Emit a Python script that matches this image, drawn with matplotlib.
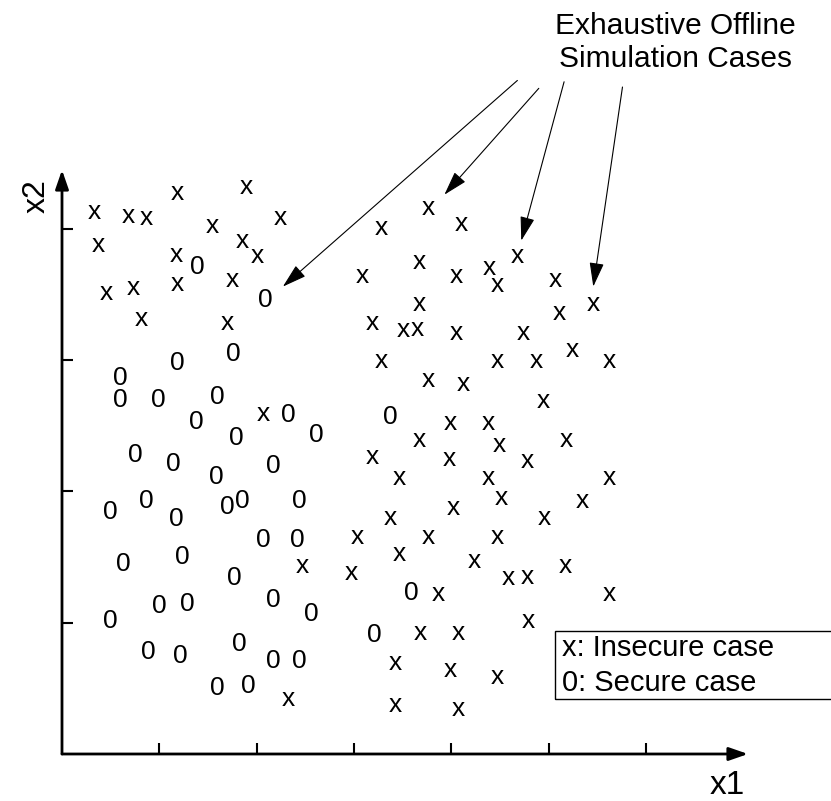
import matplotlib
matplotlib.use("Agg")
import matplotlib.pyplot as plt
from matplotlib.patches import Rectangle

plt.rcParams['font.family'] = ['Liberation Sans', 'DejaVu Sans']

# insecure cases, drawn as "x"
insecure_x1 = [0.33, 0.68, 0.87, 1.19, 1.89, 2.24, 1.54, 0.37, 1.85, 2.01,
               1.18, 1.19, 1.75, 0.46, 0.73, 0.82, 1.70, 2.07, 2.47, 2.33,
               3.76, 3.28, 4.10, 3.67, 3.09, 4.05, 4.39, 4.47, 4.68, 5.07,
               5.46, 3.67, 5.11, 3.19, 3.51, 3.65, 4.05, 4.74, 5.24, 3.28,
               4.47, 4.87, 5.62, 3.76, 4.12, 4.95, 3.99, 4.38, 3.67, 4.49,
               5.18, 3.19, 3.98, 4.78, 3.47, 4.38, 5.62, 4.52, 5.35, 4.02,
               3.37, 4.96, 3.03, 3.76, 4.47, 3.47, 4.24, 2.97, 4.59, 4.78,
               5.17, 3.87, 5.62, 4.79, 3.68, 4.07, 3.43, 3.99, 4.47, 3.43,
               4.07]
insecure_x2 = [4.13, 4.10, 4.08, 4.27, 4.32, 4.08, 4.02, 3.88, 3.91, 3.79,
               3.80, 3.58, 3.61, 3.51, 3.55, 3.31, 3.28, 2.59, 1.43, 0.42,
               4.16, 4.01, 4.04, 3.75, 3.64, 3.64, 3.70, 3.57, 3.79, 3.61,
               3.43, 3.43, 3.36, 3.28, 3.23, 3.24, 3.21, 3.21, 3.08, 2.99,
               2.99, 2.99, 2.99, 2.85, 2.82, 2.69, 2.52, 2.52, 2.39, 2.35,
               2.39, 2.26, 2.25, 2.23, 2.10, 2.10, 2.10, 1.95, 1.93, 1.87,
               1.80, 1.80, 1.65, 1.65, 1.65, 1.52, 1.47, 1.38, 1.34, 1.35,
               1.43, 1.22, 1.22, 1.01, 0.92, 0.92, 0.69, 0.64, 0.59, 0.37,
               0.34]

# secure cases, drawn as "0"
secure_x1 = [1.39, 2.09, 1.19, 1.76, 0.60, 0.60, 0.99, 1.60, 1.38, 2.33,
             1.79, 2.61, 0.75, 1.14, 1.59, 2.17, 0.87, 0.50, 1.17, 1.70,
             1.85, 2.44, 2.07, 2.42, 0.63, 1.24, 1.77, 1.00, 1.29, 2.17,
             2.56, 0.50, 0.89, 1.22, 1.82, 2.17, 2.44, 1.60, 1.91, 3.37,
             3.59, 3.21]
secure_x2 = [3.71, 3.46, 2.98, 3.05, 2.86, 2.70, 2.70, 2.72, 2.53, 2.58,
             2.41, 2.43, 2.28, 2.21, 2.11, 2.19, 1.93, 1.84, 1.79, 1.88,
             1.93, 1.93, 1.63, 1.63, 1.45, 1.50, 1.34, 1.13, 1.14, 1.17,
             1.07, 1.01, 0.78, 0.75, 0.84, 0.71, 0.71, 0.50, 0.52, 2.57,
             1.23, 0.91]

# callout arrows: where they point and where they start
callout_to_x1 = [2.27, 3.93, 4.72, 5.46]
callout_to_x2 = [3.56, 4.26, 3.91, 3.56]
callout_from_x1 = [4.68, 4.90, 5.16, 5.76]
callout_from_x2 = [5.13, 5.07, 5.12, 5.08]

x_ticks = [1, 2, 3, 4, 5, 6]
y_ticks = [1, 2, 3, 4]
legend_labels = ["x: Insecure case", "0: Secure case"]

fig = plt.figure(figsize=(8.31, 8.01), dpi=100)
ax = fig.add_axes([62 / 831, 47 / 801, 686 / 831, 584 / 801])
ax.set_xlim(0, 7.05)
ax.set_ylim(0, 4.448)
for spine in ax.spines.values():
    spine.set_visible(False)
ax.set_xticks(x_ticks)
ax.set_yticks(y_ticks)
ax.tick_params(direction='in', length=8, width=1.5,
               labelbottom=False, labelleft=False)

# axes drawn as arrows
axis_arrow = dict(arrowstyle='-|>,head_length=1.15,head_width=0.4', lw=2,
                  color='k', shrinkA=0, shrinkB=0, mutation_scale=10)
ax.annotate('', xy=(1, 0), xytext=(0, 0), xycoords='axes fraction',
            arrowprops=axis_arrow)
ax.annotate('', xy=(0, 1), xytext=(0, 0), xycoords='axes fraction',
            arrowprops=axis_arrow)

for x, y in zip(insecure_x1, insecure_x2):
    ax.text(x, y, 'x', ha='center', va='center', fontsize=19)
for x, y in zip(secure_x1, secure_x2):
    ax.text(x, y, '0', ha='center', va='center', fontsize=19)

for tx, ty, sx, sy in zip(callout_to_x1, callout_to_x2, callout_from_x1, callout_from_x2):
    ax.annotate('', xy=(tx, ty), xytext=(sx, sy), annotation_clip=False,
                arrowprops=dict(arrowstyle='-|>,head_length=1.5,head_width=0.45',
                                lw=0.8, color='k', shrinkA=0, shrinkB=0,
                                mutation_scale=10))

ax.text(6.30, 5.42, 'Exhaustive Offline\nSimulation Cases', ha='center',
        va='center', fontsize=21.5, linespacing=1.22)

fig.text(37 / 831, 1 - 196 / 801, 'x2', rotation=90, ha='center',
         va='center', fontsize=23)
fig.text(727 / 831, 1 - 785 / 801, 'x1', ha='center', va='center', fontsize=24)

# legend box
fig.add_artist(Rectangle((555 / 831, 1 - 699 / 801), 0.4, 68 / 801,
                         transform=fig.transFigure, fill=False, lw=1, ec='k'))
fig.text(562 / 831, 1 - 648 / 801, legend_labels[0], va='center', fontsize=21)
fig.text(562 / 831, 1 - 683 / 801, legend_labels[1], va='center', fontsize=21)

fig.savefig('out.png', dpi=100)
